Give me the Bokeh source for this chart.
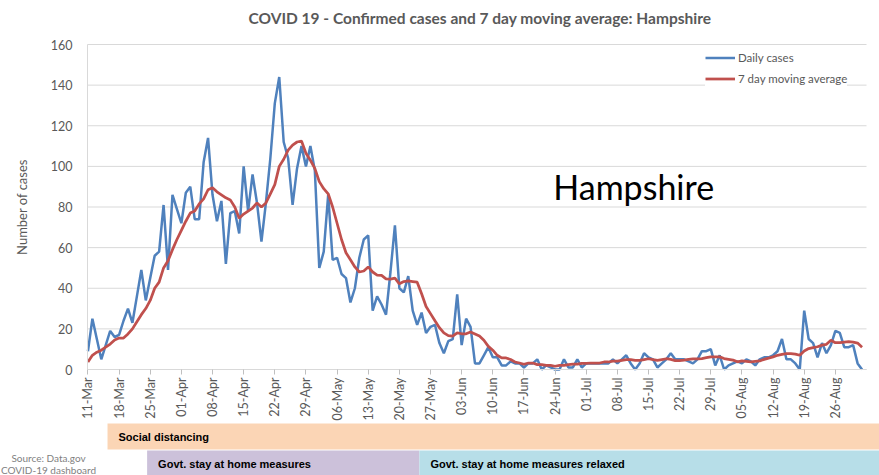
import math
from bokeh.plotting import figure
from bokeh.models import (ColumnDataSource, Range1d, FixedTicker, Legend, LegendItem, Label)
from bokeh.core.properties import value
from bokeh.embed import file_html
from bokeh.resources import INLINE

# ---------------- data ----------------
tick_labels = ["11-Mar", "18-Mar", "25-Mar", "01-Apr", "08-Apr", "15-Apr", "22-Apr",
               "29-Apr", "06-May", "13-May", "20-May", "27-May", "03-Jun", "10-Jun",
               "17-Jun", "24-Jun", "01-Jul", "08-Jul", "15-Jul", "22-Jul", "29-Jul",
               "05-Aug", "12-Aug", "19-Aug", "26-Aug"]
tick_days = [0, 7, 14, 21, 28, 35, 42, 49, 56, 63, 70, 77, 84, 91, 98, 105, 112,
             119, 126, 133, 140, 147, 154, 161, 168]

daily_cases = [
    9, 25, 15, 5, 12, 19, 16, 17, 24, 30,
    23, 36, 49, 34, 45, 56, 58, 81, 49, 86,
    79, 72, 87, 90, 74, 74, 102, 114, 86, 73,
    83, 52, 77, 78, 67, 100, 78, 96, 82, 63,
    82, 104, 131, 144, 112, 104, 81, 99, 110, 100,
    110, 98, 50, 58, 86, 54, 55, 47, 45, 33,
    40, 55, 64, 66, 29, 36, 32, 27, 48, 71,
    40, 38, 46, 29, 22, 28, 18, 21, 22, 13,
    8, 14, 15, 37, 12, 25, 21, 3, 3, 7,
    11, 6, 6, 2, 2, 4, 3, 3, 1, 3,
    3, 5, 0, 2, 1, 0, 0, 5, 1, 1,
    5, 1, 3, 3, 3, 3, 3, 3, 5, 3,
    5, 7, 3, 0, 3, 8, 6, 5, 1, 3,
    5, 8, 5, 5, 5, 4, 3, 5, 9, 9,
    10, 2, 7, 0, 2, 3, 4, 3, 5, 4,
    2, 5, 6, 6, 7, 9, 15, 5, 5, 3,
    0, 29, 15, 13, 6, 13, 8, 12, 19, 18,
    11, 11, 12, 3, 0]

moving_avg = [
    3.7, 7, 8.5, 9.5, 11, 12.5, 14.5, 15.5, 15.5, 17.5,
    20, 23.5, 27, 30, 34, 40, 43, 50, 53.5, 59,
    64, 68.5, 73, 77, 78, 81.5, 84, 88.5, 89.5, 87.5,
    86, 84.5, 83.5, 80, 74.5, 76.5, 78, 79.5, 82, 80,
    82, 86.5, 91, 100, 103.5, 108, 110.5, 112, 112.5, 106.5,
    103, 99, 92.5, 89, 86.5, 80, 72, 64, 57.5, 54,
    50.5, 48, 48.5, 50.5, 48, 46.5, 46.3, 44.6, 44.5, 45,
    42.2, 43.3, 43.6, 43.3, 43, 37.3, 31, 27.5, 24, 20.6,
    18, 16.7, 16.4, 18, 17.6, 17.6, 18.5, 17.5, 16.5, 14.4,
    11.4, 9.5, 7, 5.7, 5.7, 4.9, 3.7, 3.2, 2.6, 3.2,
    3.2, 2.4, 2.4, 2, 2, 1.6, 2, 2, 2.4, 2.6,
    2.6, 3, 3, 3.2, 3.2, 3.2, 3.7, 3.7, 4.1, 4.1,
    4.5, 4.9, 4.9, 4.5, 4.5, 4.9, 5.3, 4.9, 4.5, 4.9,
    5.3, 5, 4.4, 4.4, 4.6, 5, 5.2, 5.2, 5.4, 5.8,
    6.2, 6.2, 6.2, 5.4, 5, 4.6, 3.8, 4.2, 4, 3.8,
    4, 4.2, 5, 5.6, 6.2, 7, 7.4, 7.8, 7.8, 7.6,
    7, 9.1, 10.3, 10.8, 11.2, 12, 12.4, 14.4, 13.2, 13.2,
    13.5, 13.7, 13.5, 13, 11]

y_ticks = [0, 20, 40, 60, 80, 100, 120, 140, 160]

# measures (day index from 11-Mar)
band_labels = ["Social distancing", "Govt. stay at home measures",
               "Govt. stay at home measures relaxed"]
band_start = [4.4, 13.3, 74.5]
band_end = [200, 74.5, 200]

source_lines = ["Source: Data.gov", "COVID-19 dashboard"]

# ---------------- styles / layout ----------------
FONT = "Lato"
GREY = "#595959"
GRID = "#D9D9D9"
BLUE = "#4F81BD"
RED = "#C0504D"
band_colors = ["#FBD5B5", "#CCC1DA", "#B7DEE8"]

W, H = 879, 475
PLOT_LEFT, PLOT_RIGHT = 87, 866      # page x of the data area
PLOT_TOP, AXIS_Y = 44, 369           # page y of 160 and of 0
FRAME_TOP = 30
x0, x1 = -0.1, 175.0                 # data range of the plot area
y_top = 160

sx = (PLOT_RIGHT - PLOT_LEFT) / (x1 - x0)
sy = (AXIS_Y - PLOT_TOP) / y_top
xs = x0 - PLOT_LEFT / sx
xe = xs + W / sx
ys = -(H - AXIS_Y) / sy
ye = y_top + (PLOT_TOP - FRAME_TOP) / sy


def py(page_y):
    return (AXIS_Y - page_y) / sy


# band rows (page pixels)
band_top_y = [423, 450, 450]
band_bot_y = [449, 480, 480]
band_mid_y = [436, 463, 463]
source_page_y = [457, 469]
source_page_x = 48

days = list(range(len(daily_cases)))
src = ColumnDataSource(data=dict(day=days, daily=daily_cases, avg=moving_avg))

p = figure(width=W, height=H, output_backend="svg", toolbar_location=None,
           x_range=Range1d(xs, xe), y_range=Range1d(ys, ye),
           min_border_left=0, min_border_right=0,
           min_border_top=FRAME_TOP, min_border_bottom=0,
           title="COVID 19 - Confirmed cases and 7 day moving average: Hampshire")
p.outline_line_color = None
p.background_fill_color = "white"
p.border_fill_color = "white"

p.title.align = "left"
p.title.offset = 248
p.title.text_font = FONT
p.title.text_font_size = "15.5px"
p.title.text_font_style = "bold"
p.title.text_color = GREY
p.title.standoff = 7

# grid lines
p.segment(x0=[x0] * len(y_ticks), x1=[x1] * len(y_ticks), y0=y_ticks, y1=y_ticks,
          line_color=GRID, line_width=1, level="underlay")

# measure bands
bsrc = ColumnDataSource(data=dict(
    left=band_start, right=band_end,
    top=[py(v) for v in band_top_y], bottom=[py(v) for v in band_bot_y],
    mid=[py(v) for v in band_mid_y],
    color=band_colors, label=band_labels))
p.quad(left="left", right="right", top="top", bottom="bottom", color="color",
       line_color=None, source=bsrc)
p.text(x="left", y="mid", text="label", source=bsrc, x_offset=11,
       text_font=value("Liberation Sans"), text_font_size="11px",
       text_font_style="bold", text_color="black", text_baseline="middle")

r1 = p.line("day", "daily", source=src, line_color=BLUE, line_width=2.5)
r2 = p.line("day", "avg", source=src, line_color=RED, line_width=2.75)

# axes
p.xaxis.fixed_location = 0
p.xaxis.bounds = (x0, x1)
p.xaxis.ticker = FixedTicker(ticks=tick_days)
p.xaxis.major_label_overrides = {d: l for d, l in zip(tick_days, tick_labels)}
p.xaxis.major_label_orientation = math.pi / 2
p.xaxis.major_label_text_font = FONT
p.xaxis.major_label_text_font_size = "12.5px"
p.xaxis.major_label_text_color = GREY
p.xaxis.major_label_standoff = 3
p.xaxis.axis_line_color = GRID
p.xaxis.major_tick_line_color = "#BFBFBF"
p.xaxis.major_tick_out = 5
p.xaxis.major_tick_in = 0
p.xaxis.minor_tick_line_color = None

p.yaxis.fixed_location = x0
p.yaxis.bounds = (0, y_top)
p.yaxis.ticker = FixedTicker(ticks=y_ticks)
p.yaxis.major_label_text_font = FONT
p.yaxis.major_label_text_font_size = "12.5px"
p.yaxis.major_label_text_color = GREY
p.yaxis.major_label_standoff = 9
p.yaxis.axis_line_color = GRID
p.yaxis.major_tick_line_color = None
p.yaxis.minor_tick_line_color = None
p.yaxis.axis_label = "Number of cases"
p.yaxis.axis_label_text_font = FONT
p.yaxis.axis_label_text_font_size = "13px"
p.yaxis.axis_label_text_font_style = "normal"
p.yaxis.axis_label_text_color = GREY
p.yaxis.axis_label_standoff = 18

p.xgrid.grid_line_color = None
p.ygrid.grid_line_color = None

legend = Legend(items=[LegendItem(label="Daily cases", renderers=[r1]),
                       LegendItem(label="7 day moving average", renderers=[r2])],
                location=(705, 387), orientation="vertical")
legend.border_line_color = None
legend.background_fill_color = "white"
legend.background_fill_alpha = 1.0
legend.padding = 4
legend.spacing = 2
legend.glyph_width = 30
legend.glyph_height = 19
legend.label_height = 19
legend.label_standoff = 3
legend.label_text_font = FONT
legend.label_text_font_size = "11.5px"
legend.label_text_color = GREY
p.add_layout(legend)

p.add_layout(Label(x=104.6, y=90, text="Hampshire", text_font=FONT,
                   text_font_size="34px", text_color="black",
                   text_baseline="middle"))

for txt, yy in zip(source_lines, source_page_y):
    p.add_layout(Label(x=source_page_x, y=H - yy, x_units="screen", y_units="screen",
                       text=txt, text_font=FONT, text_font_size="10px",
                       text_color="#7F7F7F", text_align="center",
                       text_baseline="middle"))

open("out.html", "w").write(file_html(p, INLINE))
